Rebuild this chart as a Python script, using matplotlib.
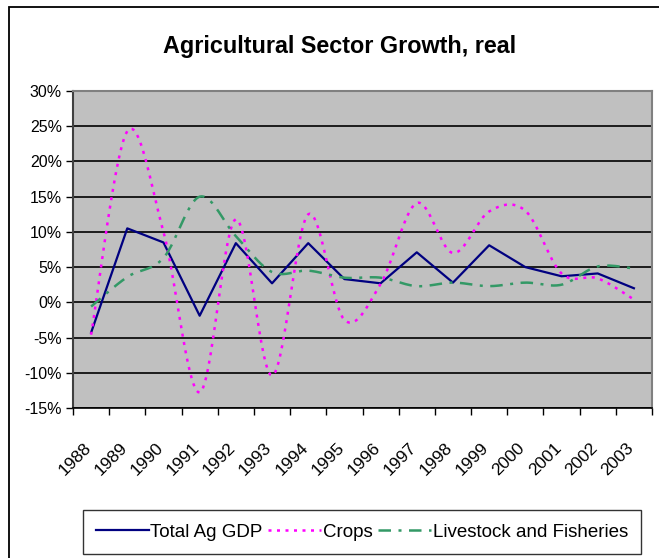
import numpy as np
import matplotlib
matplotlib.use("Agg")
import matplotlib.pyplot as plt
import matplotlib.transforms as mtransforms
from matplotlib.patches import Rectangle

years = ["1988", "1989", "1990", "1991", "1992", "1993", "1994", "1995",
         "1996", "1997", "1998", "1999", "2000", "2001", "2002", "2003"]
total_ag_gdp = [-4.3, 10.5, 8.5, -1.9, 8.4, 2.7, 8.4, 3.3,
                2.7, 7.1, 2.8, 8.1, 5.0, 3.7, 4.1, 2.0]
crops = [-4.6, 24.3, 10.0, -12.8, 11.8, -10.4, 12.5, -2.5,
         2.6, 14.1, 7.0, 12.9, 13.0, 4.1, 3.4, 0.4]
livestock_fisheries = [-0.6, 3.6, 6.3, 15.0, 9.4, 4.3, 4.5, 3.5,
                       3.5, 2.3, 2.8, 2.3, 2.8, 2.5, 5.1, 4.8]
y_ticks = [30, 25, 20, 15, 10, 5, 0, -5, -10, -15]

plt.rcParams["font.family"] = ["Liberation Sans", "DejaVu Sans"]


def smooth(xs, ys, n=24):
    """Cubic Bezier smoothing through every point (tension 1/6)."""
    xs = np.asarray(xs, float)
    ys = np.asarray(ys, float)
    P = np.column_stack([xs, ys])
    out = [P[0]]
    m = len(P)
    for i in range(m - 1):
        p0 = P[i - 1] if i > 0 else P[i]
        p1 = P[i]
        p2 = P[i + 1]
        p3 = P[i + 2] if i + 2 < m else P[i + 1]
        c1 = p1 + (p2 - p0) / 6.0
        c2 = p2 - (p3 - p1) / 6.0
        t = np.linspace(0, 1, n)[1:, None]
        seg = ((1 - t) ** 3) * p1 + 3 * ((1 - t) ** 2) * t * c1 \
            + 3 * (1 - t) * t ** 2 * c2 + t ** 3 * p2
        out.extend(seg)
    out = np.array(out)
    return out[:, 0], out[:, 1]


W, H = 659, 558
fig = plt.figure(figsize=(W / 100, H / 100), dpi=100)
fig.patch.set_facecolor("white")

# outer chart border
fig.patches.append(Rectangle((9 / W, -0.05), 1.2, 1.05 - 7 / H,
                             transform=fig.transFigure, fill=False,
                             edgecolor="black", linewidth=1.3, clip_on=False))

ax = fig.add_axes([73 / W, 1 - 408 / H, (652 - 73) / W, (408 - 91) / H])
ax.set_facecolor("#C0C0C0")

x = np.arange(len(years))
ax.set_xlim(-0.5, len(years) - 0.5)
ax.set_ylim(-15, 30)

for v in y_ticks:
    ax.axhline(v, color="black", linewidth=1.2, zorder=1)

ax.plot(x, total_ag_gdp, color="#000080", linewidth=1.6,
        label="Total Ag GDP", zorder=3)
sx, sy = smooth(x, crops)
ax.plot(sx, sy, color="#FF00FF", linewidth=1.8, linestyle=(0, (1.2, 2.2)),
        label="Crops", zorder=3)
sx, sy = smooth(x, livestock_fisheries)
ax.plot(sx, sy, color="#339966", linewidth=1.8,
        linestyle=(0, (5, 3, 1.2, 3)), label="Livestock and Fisheries",
        zorder=3)

ax.set_yticks(y_ticks)
ax.set_yticklabels([f"{v}%" for v in y_ticks], fontsize=11.5)

# category labels, rotated, placed below the axis
ax.set_xticks(x)
ax.set_xticklabels([])
ax.tick_params(axis="x", which="major", length=0)
label_tr = ax.get_xaxis_transform() + mtransforms.ScaledTranslation(
    -8 / 100, -32 / 100, fig.dpi_scale_trans)
for xi, yr in zip(x, years):
    ax.text(xi, 0, yr, transform=label_tr, rotation=45, ha="right",
            va="top", rotation_mode="anchor", fontsize=12.5)

ax.set_xticks(np.arange(-0.5, len(years), 1), minor=True)
ax.tick_params(axis="x", which="minor", length=5, width=1, direction="out")
ax.tick_params(axis="y", length=5, width=1, direction="out", pad=3)

for side in ("top", "right"):
    ax.spines[side].set_color("#808080")
    ax.spines[side].set_linewidth(1.5)
ax.spines["left"].set_color("#404040")
ax.spines["left"].set_linewidth(1.5)
ax.spines["bottom"].set_color("black")
ax.spines["bottom"].set_linewidth(1.2)

fig.text(340 / W, 1 - 47 / H, "Agricultural Sector Growth, real",
         ha="center", va="center", fontsize=16.8, fontweight="bold")

leg = fig.legend(loc="center", bbox_to_anchor=(362 / W, 1 - 532 / H),
                 ncol=3, frameon=True, fancybox=False, fontsize=13.5,
                 handlelength=2.8, handletextpad=0.1, columnspacing=0.3,
                 borderpad=0.7, borderaxespad=0)
leg.get_frame().set_edgecolor("black")
leg.get_frame().set_linewidth(1.0)

fig.savefig("out.png", dpi=100)
